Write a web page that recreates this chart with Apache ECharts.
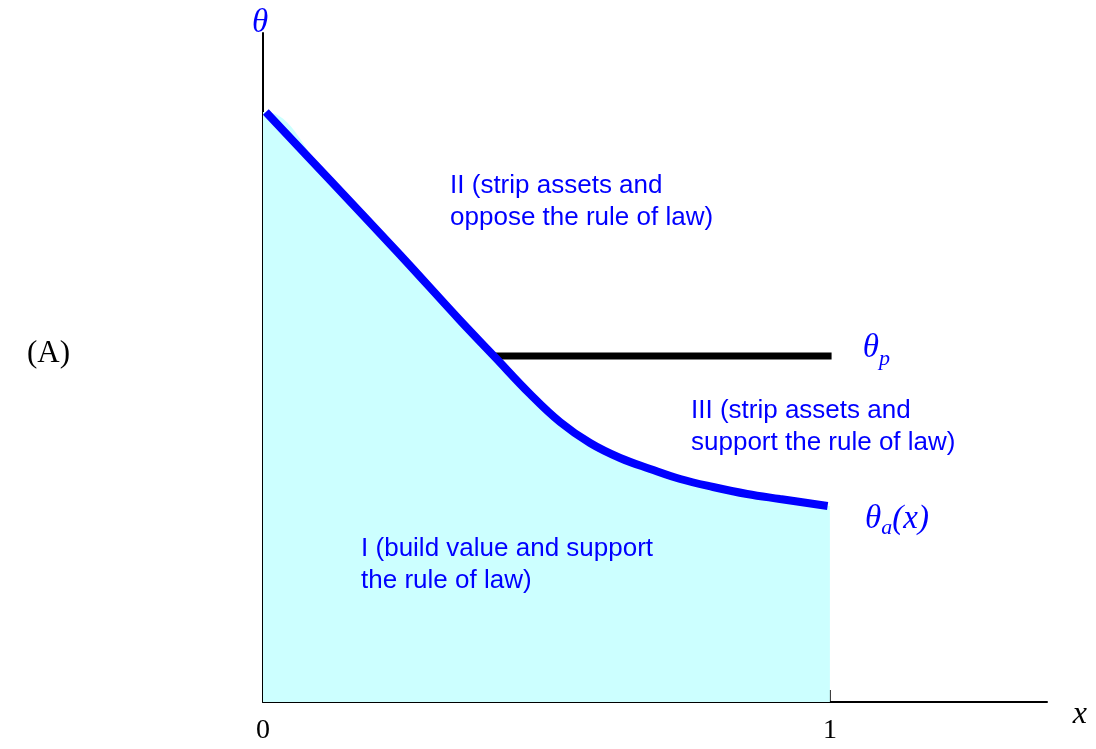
<!DOCTYPE html>
<html>
<head>
<meta charset="utf-8">
<script src="https://cdn.jsdelivr.net/npm/echarts@6/dist/echarts.min.js"></script>
<style>html,body{margin:0;padding:0;background:#fff;}#c{width:1096px;height:749px;}</style>
</head>
<body>
<div id="c"></div>
<script>
// theta_a(x) curve
const curveX = [0.005, 0.118, 0.242, 0.347, 0.409, 0.471, 0.524, 0.577, 0.630, 0.683, 0.736, 0.794, 0.854, 0.912, 0.996];
const curveY = [5.90, 5.22, 4.47, 3.82, 3.45, 3.08, 2.80, 2.59, 2.44, 2.33, 2.23, 2.15, 2.08, 2.03, 1.96];
// theta_p horizontal line
const thetaPX = [0.409, 1.003];
const thetaPY = 3.46;
const xTickValues = [0, 1];
const xTickLabels = ['0', '1'];

const BLUE = '#0000ff';
const chart = echarts.init(document.getElementById('c'), null, {renderer: 'canvas'});

const curveData = curveX.map((x, i) => [x, curveY[i]]);
// fill under curve from x = 0 to x = 1
const fillData = [[0, curveY[0]]].concat(curveData).concat([[1, curveY[curveY.length - 1]]]);

chart.setOption({
  animation: false,
  grid: {left: 263, right: 49, top: 33, bottom: 47},
  xAxis: {
    type: 'value', min: 0, max: 1.383,
    axisLine: {show: true, lineStyle: {color: '#000', width: 2}},
    splitLine: {show: false},
    axisTick: {show: true, inside: true, length: 12, customValues: [1], lineStyle: {color: '#000', width: 1.5}},
    axisLabel: {show: true, customValues: xTickValues, formatter: v => xTickLabels[xTickValues.indexOf(v)] || '',
      fontFamily: 'Liberation Serif', fontSize: 28, color: '#000', margin: 15}
  },
  yAxis: {
    type: 'value', min: 0, max: 6.69,
    axisLine: {show: true, lineStyle: {color: '#000', width: 2}},
    splitLine: {show: false}, axisTick: {show: false}, axisLabel: {show: false}
  },
  series: [
    {type: 'line', data: fillData, showSymbol: false, smooth: 0.4, lineStyle: {width: 0},
      areaStyle: {color: '#ccffff', opacity: 1}, z: 1, silent: true},
    {type: 'line', data: curveData, showSymbol: false, smooth: 0.4,
      lineStyle: {color: BLUE, width: 8, cap: 'butt'}, z: 3},
    {type: 'line', data: thetaPX.map(x => [x, thetaPY]), showSymbol: false,
      lineStyle: {color: '#000', width: 7, cap: 'butt'}, z: 2}
  ]
});

function px(x, y) { return chart.convertToPixel({gridIndex: 0}, [x, y]); }
const sans = 'Liberation Sans, Arial, sans-serif';
const serif = 'Liberation Serif, Times New Roman, serif';
function regionText(x, y, txt) {
  const p = px(x, y);
  return {type: 'text', x: p[0], y: p[1], z: 10,
    style: {text: txt, fill: BLUE, font: '26px ' + sans, lineHeight: 32, textVerticalAlign: 'middle', textAlign: 'left'}};
}
const richTheta = {
  a: {fill: BLUE, fontFamily: 'Liberation Serif', fontStyle: 'italic', fontSize: 33},
  s: {fill: BLUE, fontFamily: 'Liberation Serif', fontStyle: 'italic', fontSize: 22, padding: [22, 0, 0, 0]}
};
const pTheta = px(-0.005, 6.79);
const pThP = px(1.058, 3.54);
const pThA = px(1.062, 1.83);
const pX = px(1.441, -0.13);
chart.setOption({
  graphic: [
    regionText(0.330, 5.0, 'II (strip assets and\noppose the rule of law)'),
    regionText(0.755, 2.75, 'III (strip assets and\nsupport the rule of law)'),
    regionText(0.173, 1.37, 'I (build value and support\nthe rule of law)'),
    {type: 'text', x: pTheta[0], y: pTheta[1], style: {text: 'θ', fill: BLUE, font: 'italic 33px ' + serif, textAlign: 'center', textVerticalAlign: 'middle'}},
    {type: 'text', x: pThP[0], y: pThP[1], style: {text: '{a|θ}{s|p}', textVerticalAlign: 'middle', textAlign: 'left', rich: richTheta}},
    {type: 'text', x: pThA[0], y: pThA[1], style: {text: '{a|θ}{s|a}{a|(x)}', textVerticalAlign: 'middle', textAlign: 'left',
      rich: {a: richTheta.a, s: Object.assign({}, richTheta.s, {padding: [18, 0, 0, 0]})}}},
    {type: 'text', x: pX[0], y: pX[1], style: {text: 'x', fill: '#000', font: 'italic 32px ' + serif, textAlign: 'center', textVerticalAlign: 'middle'}},
    {type: 'text', left: 27, top: 338, style: {text: '(A)', fill: '#000', font: '31px ' + serif}}
  ]
});
</script>
</body>
</html>
